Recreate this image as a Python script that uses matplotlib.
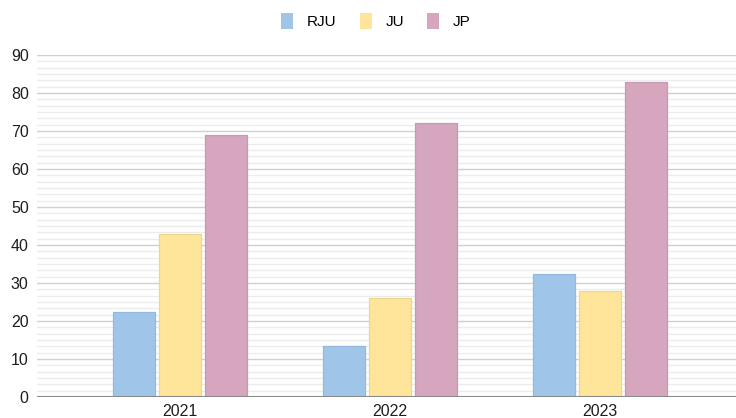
import numpy as np
import matplotlib.pyplot as plt
from matplotlib.patches import Patch

plt.rcParams['font.family'] = ['Liberation Sans', 'DejaVu Sans']

# data
years = ['2021', '2022', '2023']
series = ['RJU', 'JU', 'JP']
rju = [22.5, 13.5, 32.5]
ju = [43, 26, 28]
jp = [69, 72, 83]

fills = ['#9fc5e8', '#ffe599', '#d5a6bd']
edges = ['#93b9de', '#ecd690', '#c59bb3']

fig = plt.figure(figsize=(7.36, 4.18), dpi=100)
ax = fig.add_axes([37 / 736, 21 / 418, 699 / 736, 342 / 418])

x = np.arange(len(years))
step = 0.219
width = 0.203
for i, vals in enumerate([rju, ju, jp]):
    bars = ax.bar(x + (i - 1) * step, vals, width, color=fills[i],
                  edgecolor=edges[i], linewidth=0.9, zorder=3)
    for b in bars:
        b.set_joinstyle('round')

ax.set_xlim(-143 / 210, 556 / 210)
ax.set_ylim(0, 90)

# major and minor gridlines
ax.set_yticks(np.arange(0, 91, 10))
ax.set_yticks(np.arange(0, 90.01, 10 / 6), minor=True)
ax.grid(axis='y', which='major', color='#d0d0d0', linewidth=1.0, zorder=0)
ax.grid(axis='y', which='minor', color='#ececec', linewidth=1.0, zorder=0)
ax.axhline(0, color='#8a8a8a', linewidth=1.5, zorder=4)

ax.set_xticks(x)
ax.set_xticklabels(years)
ax.tick_params(axis='both', which='both', length=0, labelsize=11.5, colors='#1e1e1e')
ax.tick_params(axis='y', pad=6)
ax.tick_params(axis='x', pad=5)
for s in ax.spines.values():
    s.set_visible(False)

handles = [Patch(facecolor=fills[i], edgecolor='none') for i in range(3)]
fig.legend(handles, series, loc='center', bbox_to_anchor=(376 / 736, 1 - 21 / 418),
           ncol=3, frameon=False, fontsize=11, handlelength=0.8, handleheight=1.2,
           handletextpad=0.9, columnspacing=1.5)

fig.savefig('out.png', dpi=100)
